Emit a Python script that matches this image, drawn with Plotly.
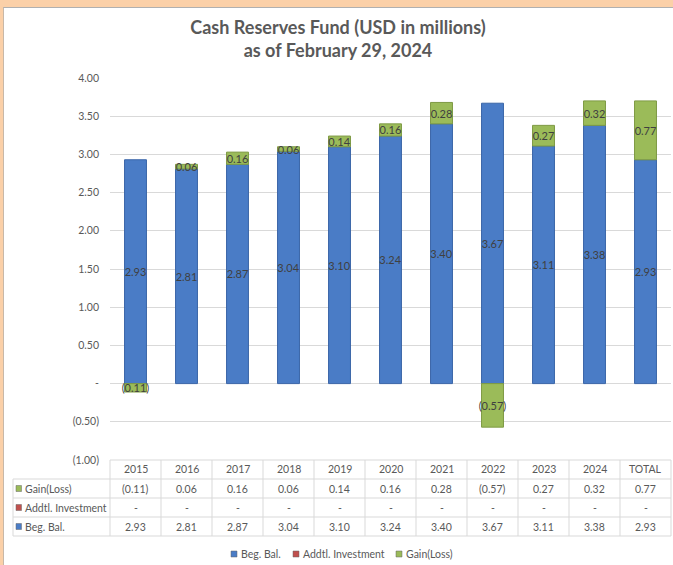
import plotly.graph_objects as go

# ---------------- data ----------------
categories = ["2015", "2016", "2017", "2018", "2019", "2020", "2021", "2022", "2023", "2024", "TOTAL"]
beg_bal = [2.93, 2.81, 2.87, 3.04, 3.10, 3.24, 3.40, 3.67, 3.11, 3.38, 2.93]
addtl_investment = [0, 0, 0, 0, 0, 0, 0, 0, 0, 0, 0]
gain_loss = [-0.11, 0.06, 0.16, 0.06, 0.14, 0.16, 0.28, -0.57, 0.27, 0.32, 0.77]
series_names = ["Beg. Bal.", "Addtl. Investment", "Gain(Loss)"]
y_tick_values = [-1.0, -0.5, 0.0, 0.5, 1.0, 1.5, 2.0, 2.5, 3.0, 3.5, 4.0]
title_lines = ["Cash Reserves Fund (USD in millions)", "as of February 29, 2024"]


def fmt(v):
    if abs(v) < 1e-9:
        return "-"
    if v < 0:
        return "({:.2f})".format(abs(v))
    return "{:.2f}".format(v)


y_tick_labels = [fmt(v) for v in y_tick_values]

# ---------------- layout geometry ----------------
W, H = 673, 565
PL, PR, PT, PB = 110, 671, 78, 460  # plot area in pixels
FONT = "Lato, Carlito, Calibri, sans-serif"
GREY = "#595959"
LINE = "#d9d9d9"
BLUE = "#4a7cc6"
BLUE_EDGE = "#3b66a8"
RED = "#c0504d"
GREEN = "#9bbb59"
GREEN_EDGE = "#7e9a44"
FS = 10.5


def px_x(p):
    return (p - PL) / (PR - PL)


def px_y(p):
    return (PB - p) / (PB - PT)


n = len(categories)

fig = go.Figure()
fig.add_trace(go.Bar(
    x=categories, y=beg_bal, name=series_names[0],
    marker=dict(color=BLUE, line=dict(color=BLUE_EDGE, width=1)),
    text=[fmt(v) for v in beg_bal], textposition="inside", insidetextanchor="middle",
    textangle=0, constraintext="none",
    textfont=dict(color="#404040", size=11, family=FONT),
    width=0.43, showlegend=False,
))
fig.add_trace(go.Bar(
    x=categories, y=addtl_investment, name=series_names[1],
    marker=dict(color=RED, line=dict(width=0)),
    width=0.43, showlegend=False,
))
fig.add_trace(go.Bar(
    x=categories, y=gain_loss, name=series_names[2],
    marker=dict(color=GREEN, line=dict(color=GREEN_EDGE, width=1)),
    text=[fmt(v) for v in gain_loss], textposition="inside", insidetextanchor="middle",
    textangle=0, constraintext="none",
    textfont=dict(color="#404040", size=11, family=FONT),
    width=0.43, showlegend=False,
))

shapes = []
annotations = []

# peach frame
PEACH = "#fbd0a8"
shapes.append(dict(type="rect", xref="paper", yref="paper",
                   x0=px_x(0), x1=px_x(W), y0=px_y(7), y1=px_y(0),
                   fillcolor=PEACH, line=dict(width=0), layer="below"))
shapes.append(dict(type="rect", xref="paper", yref="paper",
                   x0=px_x(0), x1=px_x(3), y0=px_y(H), y1=px_y(0),
                   fillcolor=PEACH, line=dict(width=0), layer="below"))
shapes.append(dict(type="line", xref="paper", yref="paper",
                   x0=px_x(3), x1=px_x(W), y0=px_y(7.5), y1=px_y(7.5),
                   line=dict(color="#b0b0b0", width=1)))
shapes.append(dict(type="line", xref="paper", yref="paper",
                   x0=px_x(3.5), x1=px_x(3.5), y0=px_y(H), y1=px_y(7.5),
                   line=dict(color="#c8b8a8", width=1)))

# data table grid
row_lines = [460, 479, 498, 517, 536]
for i, py in enumerate(row_lines):
    x0 = px_x(PL) if i == 0 else px_x(13)
    shapes.append(dict(type="line", xref="paper", yref="paper",
                       x0=x0, x1=1.0, y0=px_y(py), y1=px_y(py),
                       line=dict(color=LINE, width=1)))
for k in range(n + 1):
    shapes.append(dict(type="line", xref="paper", yref="paper",
                       x0=k / n, x1=k / n, y0=px_y(536), y1=px_y(460),
                       line=dict(color=LINE, width=1)))
shapes.append(dict(type="line", xref="paper", yref="paper",
                   x0=px_x(13), x1=px_x(13), y0=px_y(536), y1=px_y(479),
                   line=dict(color=LINE, width=1)))

# header (categories)
for i, c in enumerate(categories):
    annotations.append(dict(xref="paper", yref="paper", x=(i + 0.5) / n, y=px_y(469),
                            text=c, showarrow=False, xanchor="center", yanchor="middle",
                            font=dict(size=FS, color=GREY, family=FONT)))

colors = [BLUE, RED, GREEN]
rows = [
    (2, gain_loss, 488.5),
    (1, addtl_investment, 507.5),
    (0, beg_bal, 526.5),
]
for si, vals, py in rows:
    shapes.append(dict(type="rect", xref="paper", yref="paper",
                       x0=px_x(16), x1=px_x(21.5), y0=px_y(py + 3), y1=px_y(py - 3),
                       fillcolor=colors[si], line=dict(color="#666666", width=0.5)))
    annotations.append(dict(xref="paper", yref="paper", x=px_x(22.5), y=px_y(py),
                            text=series_names[si], showarrow=False, xanchor="left",
                            yanchor="middle",
                            font=dict(size=FS, color=GREY, family=FONT)))
    for i, v in enumerate(vals):
        annotations.append(dict(xref="paper", yref="paper", x=(i + 0.5) / n, y=px_y(py),
                                text=fmt(v), showarrow=False, xanchor="center",
                                yanchor="middle",
                                font=dict(size=FS, color=GREY, family=FONT)))

# legend (drawn)
legend_pos = [(231, 239), (293, 301), (396, 404)]
for si, (sq, tx) in enumerate(legend_pos):
    shapes.append(dict(type="rect", xref="paper", yref="paper",
                       x0=px_x(sq), x1=px_x(sq + 6), y0=px_y(557), y1=px_y(551),
                       fillcolor=colors[si], line=dict(color="#666666", width=0.5)))
    annotations.append(dict(xref="paper", yref="paper", x=px_x(tx), y=px_y(554),
                            text=series_names[si], showarrow=False, xanchor="left",
                            yanchor="middle",
                            font=dict(size=FS, color=GREY, family=FONT)))

fig.update_layout(
    width=W, height=H,
    margin=dict(l=PL, r=W - PR, t=PT, b=H - PB, pad=0),
    paper_bgcolor="white", plot_bgcolor="white",
    barmode="relative",
    font=dict(family=FONT, color=GREY, size=FS),
    title=dict(text="<b>" + title_lines[0] + "<br>" + title_lines[1] + "</b>",
               x=338 / W, xanchor="center", xref="container",
               y=1 - 34 / H, yanchor="middle", yref="container",
               font=dict(size=18, color=GREY, family=FONT)),
    xaxis=dict(range=[-0.5, n - 0.5], showticklabels=False, showgrid=False,
               zeroline=False, showline=False, ticks=""),
    yaxis=dict(range=[-1.0, 4.0], tickvals=y_tick_values, ticktext=y_tick_labels,
               showgrid=True, gridcolor=LINE, gridwidth=1, zeroline=True,
               zerolinecolor=LINE, zerolinewidth=1, showline=False, ticks="",
               ticklabelstandoff=10, tickfont=dict(size=FS, color=GREY, family=FONT)),
    shapes=shapes,
    annotations=annotations,
    showlegend=False,
)

fig.write_html("out.html", config={"displayModeBar": False},
               post_script="document.body.style.margin='0';document.body.style.overflow='hidden';")
